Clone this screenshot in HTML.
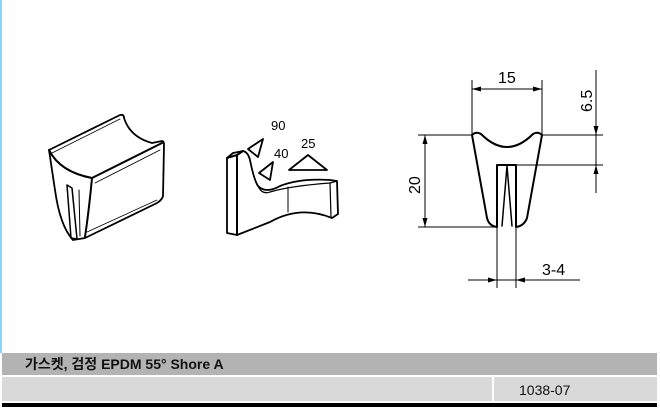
<!DOCTYPE html>
<html><head><meta charset="utf-8"><style>
html,body{margin:0;padding:0;background:#fff;}
body{width:660px;height:415px;position:relative;overflow:hidden;font-family:"Liberation Sans","Noto Sans CJK KR",sans-serif;}
.b{position:absolute;}
</style></head><body>
<div class="b" style="left:0;top:0;width:2px;height:353px;background:#8fd3f5"></div>
<svg class="b" style="left:0;top:0" width="660" height="350" viewBox="0 0 660 350">
<g fill="none" stroke="#000" stroke-width="2" stroke-linejoin="round" stroke-linecap="round">
<path d="M49,150 L120,115 Q124,114 124,118 Q130,137 152,143 L162,141 Q164,141 164,145 L163,196 Q162,200 157,203 L85,238 L73,240 Q60,226 55,190 Z" stroke-width="1.8"/>
<path d="M49,150 Q60,172 92,178 L162,143"/>
<path d="M92,178 Q89,210 85,237"/>
<path d="M52,153 L120,119" stroke-width="0.8"/>
<path d="M95,183 L160,150" stroke-width="0.8"/>
<path d="M87,232 L157,200" stroke-width="0.8"/>
<path d="M67,185 L72,188 L77,239 L71,238 Z" stroke-width="1.5"/>
<path d="M79,190 L80,236" stroke-width="1"/>
<path d="M227,158 L233,153 L243,151 Q248,152 250,160 Q254,180 258,186 Q266,194 280,186 Q300,178 330,180 L337,181 L338,214 L332,218 Q300,205 270,222 L237,235 L227,233 Z" stroke-width="1.8"/>
<path d="M227,158 L237,155 L243,151 M237,155 L237,235"/>
<path d="M258,186 Q262,195 270,192 Q290,186 330,183 L337,181" stroke-width="1.2"/>
<path d="M330,183 L331,217" stroke-width="1.2"/>
<path d="M288,187 L288,212" stroke-width="1"/>
<path d="M248,149 L263,139 L258,157 Z" stroke-width="1.8"/>
<path d="M259,173 L273,162 L270,180 Z" stroke-width="1.8"/>
<path d="M289,170 L327,170 L308,155 Z" stroke-width="1.8"/>
<path d="M472,135 Q476,131 481,134 Q507,160 533,134 Q538,131 542,135 L527,218 Q524,226 516,227 L516,165 L497,165 L497,227 Q489,226 487,218 Z" stroke-width="2"/>
<path d="M507,166 L502,226 M507,166 L512,226" stroke-width="1.5"/>
</g>
<g fill="none" stroke="#000" stroke-width="1">
<path d="M472,80 L472,134 M542,80 L542,134 M472,89 L542,89"/>
<path d="M596,70 L596,193 M542,135 L603,135 M516,165 L603,165"/>
<path d="M418,135 L472,135 M418,227 L497,227 M425,135 L425,227"/>
<path d="M497,227 L497,288 M516,227 L516,288 M468,280 L580,280"/>
</g>
<g fill="#000">
<path d="M472,89 l9,-2.5 v5 z M542,89 l-9,-2.5 v5 z"/>
<path d="M596,135 l-2.5,-9 h5 z M596,165 l-2.5,9 h5 z"/>
<path d="M425,135 l-2.5,9 h5 z M425,227 l-2.5,-9 h5 z"/>
<path d="M497,280 l-9,-2.5 v5 z M516,280 l9,-2.5 v5 z"/>
</g>
<g font-family="Liberation Sans, sans-serif" font-size="15" fill="#000">
<text x="498" y="83" font-size="16">15</text>
<text transform="translate(592,112) rotate(-90)" font-size="16">6.5</text>
<text transform="translate(420,194) rotate(-90)" font-size="16">20</text>
<text x="542" y="275" font-size="16">3-4</text>
<text x="271" y="130" font-size="13">90</text>
<text x="274" y="158" font-size="13">40</text>
<text x="301" y="148" font-size="13">25</text>
</g>
</svg>
<div class="b" style="left:2px;top:353px;width:655px;height:22px;background:#b3b3b3;"></div>
<div class="b" style="left:25px;top:355px;font-size:14px;line-height:18px;color:#111;font-weight:bold;">가스켓, 검정 EPDM 55° Shore A</div>
<div class="b" style="left:2px;top:377px;width:490px;height:24px;background:#d9d9d9;"></div>
<div class="b" style="left:494px;top:377px;width:163px;height:24px;background:#d9d9d9;"></div>
<div class="b" style="left:519px;top:381px;font-size:14px;line-height:18px;color:#111;">1038-07</div>
<div class="b" style="left:2px;top:403px;width:655px;height:4px;background:#000;"></div>
</body></html>
